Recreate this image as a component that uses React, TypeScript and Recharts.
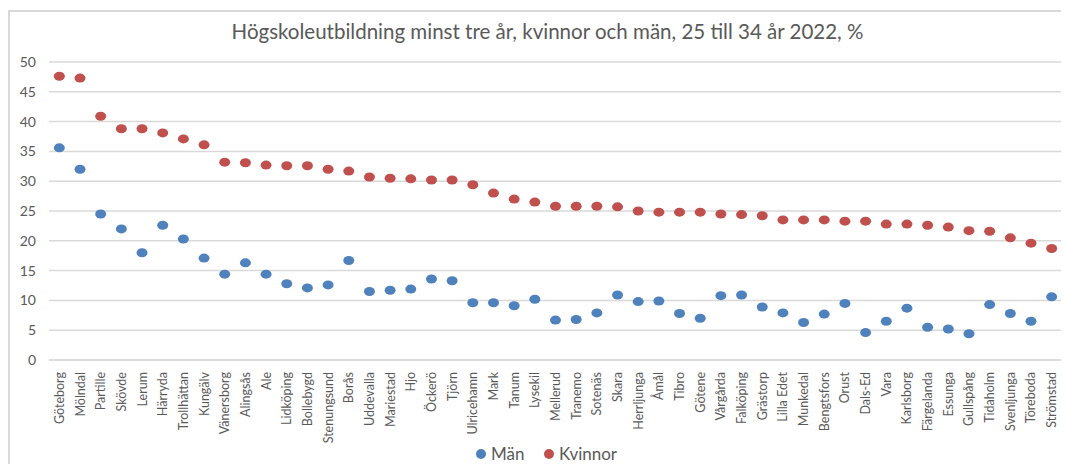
import React from "react";
import { ComposedChart, Scatter, XAxis, YAxis, CartesianGrid } from "recharts";

const categories = ["Göteborg","Mölndal","Partille","Skövde","Lerum","Härryda","Trollhättan","Kungälv","Vänersborg","Alingsås","Ale","Lidköping","Bollebygd","Stenungsund","Borås","Uddevalla","Mariestad","Hjo","Öckerö","Tjörn","Ulricehamn","Mark","Tanum","Lysekil","Mellerud","Tranemo","Sotenäs","Skara","Herrljunga","Åmål","Tibro","Götene","Vårgårda","Falköping","Grästorp","Lilla Edet","Munkedal","Bengtsfors","Orust","Dals-Ed","Vara","Karlsborg","Färgelanda","Essunga","Gullspång","Tidaholm","Svenljunga","Töreboda","Strömstad"];

const man = [35.6,32.0,24.5,22.0,18.0,22.6,20.3,17.1,14.4,16.3,14.4,12.8,12.1,12.6,16.7,11.5,11.7,11.9,13.6,13.3,9.6,9.6,9.1,10.2,6.7,6.8,7.9,10.9,9.8,9.9,7.8,7.0,10.8,10.9,8.9,7.9,6.3,7.7,9.5,4.6,6.5,8.7,5.5,5.2,4.4,9.3,7.8,6.5,10.6];

const kvinnor = [47.6,47.3,40.9,38.8,38.8,38.1,37.1,36.1,33.2,33.1,32.7,32.6,32.6,32.0,31.7,30.7,30.5,30.4,30.2,30.2,29.4,28.0,27.0,26.5,25.8,25.8,25.8,25.7,25.0,24.8,24.8,24.8,24.5,24.4,24.2,23.5,23.5,23.5,23.3,23.3,22.8,22.8,22.6,22.3,21.7,21.6,20.5,19.6,18.7];

const yTicks = [0,5,10,15,20,25,30,35,40,45,50];

const title = "Högskoleutbildning minst tre år, kvinnor och män, 25 till 34 år 2022, %";
const seriesNames = ["Män", "Kvinnor"];

const data = categories.map((name, i) => ({ name, man: man[i], kvinnor: kvinnor[i] }));

const BLUE = "#4f81bd";
const RED = "#c0504d";
const FONT = "Lato, 'Open Sans', sans-serif";

const CHART_W = 1061;
const Y_W = 41;
const RIGHT = 7;
const HALF_BAND = (CHART_W - Y_W - RIGHT) / categories.length / 2;

const Dot = (color: string) => (props: any) => {
  const { cx, cy } = props;
  if (cx == null || cy == null) return null;
  return <ellipse cx={cx} cy={cy} rx={5.5} ry={4.5} fill={color} />;
};

const XTick = (props: any) => {
  const { x, y, payload } = props;
  return (
    <text x={x} y={y} transform={`rotate(-90, ${x}, ${y})`} textAnchor="end" dominantBaseline="central" fill="#595959" fontSize={12.5} fontFamily={FONT}>
      {payload.value}
    </text>
  );
};

const legendDot = (color: string) => (
  <span style={{ display: "inline-block", width: 10, height: 10, borderRadius: 5, background: color, marginRight: 5 }} />
);

export default function App() {
  return (
    <div style={{ position: "relative", width: CHART_W, height: 462, marginBottom: -6, fontFamily: FONT, overflow: "hidden" }}>
      <style>{`html, body { overflow: hidden; }`}</style>
      <div style={{ position: "absolute", left: 0, top: 2, width: CHART_W, height: 460, boxSizing: "border-box", borderLeft: "2px solid #d9d9d9", borderTop: "2px solid #d9d9d9" }} />
      <div style={{ position: "absolute", left: 18, top: 11, width: 1043, textAlign: "center", fontSize: 20.5, lineHeight: "24px", color: "#595959", fontFamily: FONT }}>{title}</div>
      <div style={{ position: "absolute", left: 0, top: 0 }}>
        <ComposedChart width={CHART_W} height={456} data={data} margin={{ top: 54, right: RIGHT, bottom: 0, left: 0 }}>
          <CartesianGrid vertical={false} stroke="#d9d9d9" strokeWidth={1.5} />
          <XAxis dataKey="name" type="category" interval={0} tick={<XTick />} tickLine={false} axisLine={{ stroke: "#d9d9d9", strokeWidth: 1.5 }} height={104} tickMargin={6} padding={{ left: HALF_BAND, right: HALF_BAND }} />
          <YAxis type="number" domain={[0, 50]} ticks={yTicks} interval={0} width={Y_W} axisLine={false} tickLine={false} tick={{ fill: "#595959", fontSize: 14, fontFamily: FONT }} tickMargin={7} />
          <Scatter name={seriesNames[0]} dataKey="man" fill={BLUE} shape={Dot(BLUE)} isAnimationActive={false} />
          <Scatter name={seriesNames[1]} dataKey="kvinnor" fill={RED} shape={Dot(RED)} isAnimationActive={false} />
        </ComposedChart>
      </div>
      <div style={{ position: "absolute", left: 468, top: 436, fontSize: 17, lineHeight: "20px", color: "#595959", display: "flex", alignItems: "center" }}>
        {legendDot(BLUE)}<span>{seriesNames[0]}</span>
      </div>
      <div style={{ position: "absolute", left: 536, top: 436, fontSize: 17, lineHeight: "20px", color: "#595959", display: "flex", alignItems: "center" }}>
        {legendDot(RED)}<span>{seriesNames[1]}</span>
      </div>
    </div>
  );
}
